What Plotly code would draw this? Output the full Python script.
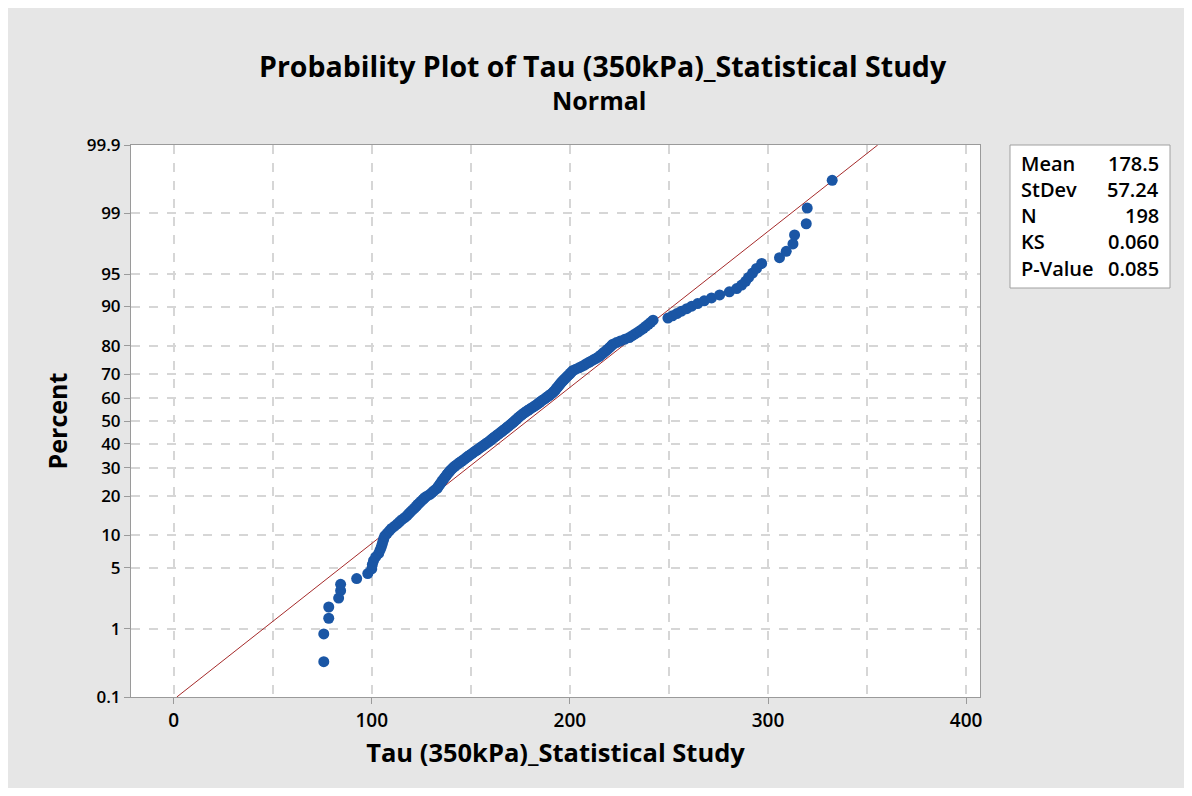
import plotly.graph_objects as go
from statistics import NormalDist

# ---- data (sorted sample values) ----
tau_values = [
    75.8, 75.8, 78.3, 78.3, 83.3, 84.3, 84.3, 92.4, 98.0, 100.0,
    100.3, 100.9, 102.0, 103.5, 104.2,
    104.8, 105.3, 105.7, 106.1, 106.6,
    107.8, 108.9, 110.0,
    111.5, 112.9, 114.0, 115.2, 116.6,
    117.8, 118.7, 119.6, 120.6, 121.6,
    122.4, 123.2, 124.1, 125.0, 125.9, 126.7,
    127.8, 129.2, 130.3, 131.0, 131.9, 133.0,
    133.4, 134.0, 134.5, 135.0, 135.5, 136.0, 136.6, 137.1, 137.6, 138.1, 138.7, 139.2, 139.8, 140.5, 141.1,
    141.9, 142.7, 143.5, 144.4, 145.3, 146.2, 147.0, 147.8, 148.6, 149.5, 150.4, 151.2,
    152.0, 152.9, 153.8, 154.6, 155.4, 156.3, 157.1, 157.9, 158.8, 159.6,
    160.3, 161.0, 161.7, 162.5, 163.2, 164.0, 164.7, 165.5, 166.2, 167.0, 167.7, 168.4, 169.1, 169.8, 170.5, 171.2,
    171.8, 172.4, 173.1, 173.7, 174.3, 175.0, 175.7, 176.4,
    177.2, 178.0, 178.9, 179.8, 180.7, 181.6, 182.5, 183.3, 184.1, 184.8,
    185.6, 186.4, 187.3, 188.1, 188.9, 189.7, 190.5, 191.3,
    191.8, 192.4, 192.9, 193.4, 193.9, 194.4, 194.9, 195.4, 195.9, 196.5,
    197.1, 197.8, 198.4, 199.0, 199.7, 200.3, 200.9, 201.6,
    203.0, 204.6, 206.0, 207.3, 208.4,
    209.6, 210.9, 212.2, 213.5, 214.7,
    215.6, 216.5, 217.4, 218.3, 219.2, 220.1, 220.9, 221.7,
    223.5, 225.5, 227.8, 230.0,
    231.5, 232.9, 234.4, 235.8, 237.1,
    238.3, 239.6, 240.8, 242.0,
    249.5, 251.8, 254.0, 256.3, 259.0, 261.5,
    264.5, 267.8, 271.5, 275.6, 280.5, 284.2, 286.7, 288.7, 290.2, 292.2, 294.2, 296.8,
    305.8, 309.2, 312.6, 313.4, 319.3, 319.8, 332.4,
]

mean_val = 178.5
stdev_val = 57.24
n_val = 198
ks_val = "0.060"
p_val = "0.085"

percent_ticks = [0.1, 1, 5, 10, 20, 30, 40, 50, 60, 70, 80, 90, 95, 99, 99.9]
percent_labels = ["0.1", "1", "5", "10", "20", "30", "40", "50", "60", "70", "80", "90", "95", "99", "99.9"]
x_ticks = [0, 100, 200, 300, 400]

stats_labels = ["Mean", "StDev", "N", "KS", "P-Value"]
stats_values = [f"{mean_val}", f"{stdev_val}", f"{n_val}", ks_val, p_val]

# ---- probability scale (normal) ----
nd = NormalDist()
n = len(tau_values)
ranks = list(range(1, n + 1))
percents = [(i - 0.3) / (n + 0.4) for i in ranks]     # median ranks
z_points = [nd.inv_cdf(p) for p in percents]
z_ticks = [nd.inv_cdf(p / 100) for p in percent_ticks]
z_lo, z_hi = z_ticks[0], z_ticks[-1]
line_x = [mean_val + z_lo * stdev_val, mean_val + z_hi * stdev_val]

FONT = "Open Sans"
GRID = "#d6d6d6"
AXC = "#9a9a9a"

fig = go.Figure()
fig.add_trace(go.Scatter(x=line_x, y=[z_lo, z_hi], mode="lines",
                         line=dict(color="#a52a2a", width=1), showlegend=False,
                         hoverinfo="skip"))
fig.add_trace(go.Scatter(x=tau_values, y=z_points, mode="markers",
                         marker=dict(color="#1a56a5", size=11, line=dict(width=0)),
                         showlegend=False))

OFF = 8  # page body margin
W, H = 1176, 780
L, R, T, B = 131 - OFF, 980 - OFF, 145 - OFF, 697 - OFF
ml, mr, mt, mb = L, W - R, T, H - B
pw, ph = R - L, B - T


def px_x(x):
    return (x - OFF - L) / pw


def px_y(y):
    return (B - (y - OFF)) / ph


shapes = [
    dict(type="rect", xref="paper", yref="paper", x0=px_x(1010), x1=px_x(1170),
         y0=px_y(288), y1=px_y(145), fillcolor="white",
         line=dict(color="#a0a0a0", width=1), layer="above"),
]

annotations = [
    dict(text="<b>Probability Plot of Tau (350kPa)_Statistical Study</b>", xref="paper", yref="paper",
         x=px_x(603), y=px_y(66), showarrow=False, font=dict(family=FONT, size=28.5, color="black"),
         xanchor="center", yanchor="middle"),
    dict(text="<b>Normal</b>", xref="paper", yref="paper",
         x=px_x(599), y=px_y(100), showarrow=False, font=dict(family=FONT, size=25, color="black"),
         xanchor="center", yanchor="middle"),
]
row_y = [163, 189, 215, 241, 268]
for lab, val, ry in zip(stats_labels, stats_values, row_y):
    annotations.append(dict(text=lab, xref="paper", yref="paper", x=px_x(1019), y=px_y(ry),
                            xanchor="left", yanchor="middle", showarrow=False,
                            font=dict(family=FONT, size=20, color="black", weight=600)))
    annotations.append(dict(text=val, xref="paper", yref="paper", x=px_x(1161), y=px_y(ry),
                            xanchor="right", yanchor="middle", showarrow=False,
                            font=dict(family=FONT, size=20, color="black", weight=600)))

fig.update_layout(
    width=W, height=H,
    margin=dict(l=ml, r=mr, t=mt, b=mb, pad=0),
    paper_bgcolor="#e6e6e6",
    plot_bgcolor="white",
    shapes=shapes,
    annotations=annotations,
    xaxis=dict(
        range=[-21.5, 407.0], tickmode="array", tickvals=x_ticks,
        ticktext=[str(v) for v in x_ticks],
        showgrid=True, gridcolor=GRID, griddash="dash", gridwidth=1.5,
        minor=dict(tickmode="linear", tick0=0, dtick=50, showgrid=True, gridcolor=GRID,
                   griddash="dash", gridwidth=1.5, ticks=""),
        zeroline=False, showline=True, linecolor=AXC, linewidth=1, mirror=True,
        ticks="outside", ticklen=6, tickcolor=AXC,
        tickfont=dict(family=FONT, size=19, color="black", weight=600),
        title=dict(text="<b>Tau (350kPa)_Statistical Study</b>", standoff=12,
                   font=dict(family=FONT, size=25.5, color="black")),
    ),
    yaxis=dict(
        range=[z_lo, z_hi], tickmode="array", tickvals=z_ticks, ticktext=percent_labels,
        showgrid=True, gridcolor=GRID, griddash="dash", gridwidth=1.5,
        zeroline=False, showline=True, linecolor=AXC, linewidth=1, mirror=True,
        ticks="outside", ticklen=6, tickcolor=AXC,
        tickfont=dict(family=FONT, size=17, color="black", weight=600),
        title=dict(text="<b>Percent</b>", standoff=12,
                   font=dict(family=FONT, size=25, color="black")),
    ),
)

fig.write_html("out.html")
